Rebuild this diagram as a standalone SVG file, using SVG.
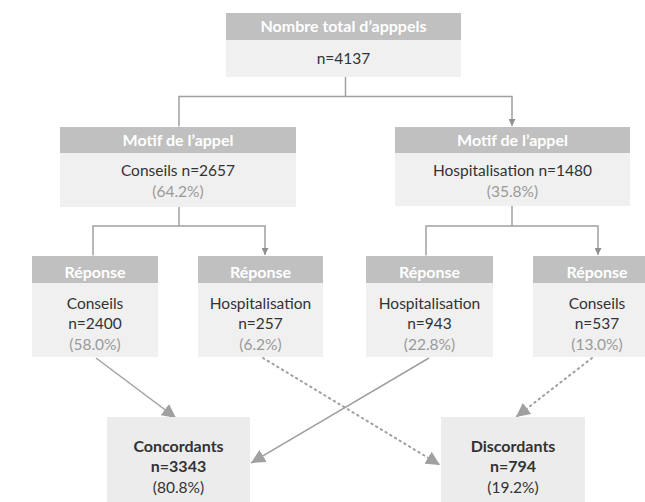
<svg xmlns="http://www.w3.org/2000/svg" width="645" height="502" viewBox="0 0 645 502">
<style>
.hd{fill:#c0c0c0}
.bd{fill:#f0f0f0}
.bb{fill:#ececec}
.ht{font-family:Lato,"Liberation Sans",sans-serif;font-size:16px;font-weight:bold;fill:#ffffff;text-anchor:middle}
.t{font-family:Lato,"Liberation Sans",sans-serif;font-size:15.5px;fill:#333333;text-anchor:middle}
.p{font-family:Lato,"Liberation Sans",sans-serif;font-size:15.5px;fill:#9a9a9a;text-anchor:middle}
.b{font-family:Lato,"Liberation Sans",sans-serif;font-size:16px;font-weight:bold;fill:#333333;text-anchor:middle}
.ln{fill:none;stroke:#a0a0a0;stroke-width:1.5}
.dl{fill:none;stroke:#a0a0a0;stroke-width:2;stroke-dasharray:1.5 4;stroke-linecap:round}
</style>
<defs>
<marker id="a" viewBox="0 0 10 10" refX="10" refY="5" markerWidth="7" markerHeight="7" markerUnits="userSpaceOnUse" orient="auto"><path d="M0,0 L10,5 L0,10 z" fill="#909090"/></marker>
<marker id="A" viewBox="0 0 10 10" refX="10" refY="5" markerWidth="14" markerHeight="14" markerUnits="userSpaceOnUse" orient="auto"><path d="M0,0 L10,5 L0,10 z" fill="#a0a0a0"/></marker>
</defs>
<rect width="645" height="502" fill="#ffffff"/>
<g id="connectors">
<path class="ln" d="M345.5,77 V96.5"/>
<path class="ln" d="M179,126 V96.5 H512 V126" marker-start="url(#a)" marker-end="url(#a)"/>
<path class="ln" d="M179,207 V226"/>
<path class="ln" d="M93,255 V226 H265 V255" marker-start="url(#a)" marker-end="url(#a)"/>
<path class="ln" d="M512,206 V226"/>
<path class="ln" d="M426,255 V226 H598 V255" marker-start="url(#a)" marker-end="url(#a)"/>
<path class="ln" d="M96,358 L176,418" marker-end="url(#A)"/>
<path class="ln" d="M429,358 L251,463" marker-end="url(#A)"/>
<path class="dl" d="M263,358 L440,465" marker-end="url(#A)"/>
<path class="dl" d="M592,358 L516,417" marker-end="url(#A)"/>
</g>
<g id="total">
<rect class="hd" x="226" y="13" width="235" height="27"/>
<rect class="bd" x="226" y="40" width="235" height="37"/>
<text class="ht" x="343.5" y="32">Nombre total d’apppels</text>
<text class="t" x="343.5" y="64">n=4137</text>
</g>
<g id="motif-conseils">
<rect class="hd" x="60" y="127" width="236" height="26"/>
<rect class="bd" x="60" y="153" width="236" height="54"/>
<text class="ht" x="178" y="145.5">Motif de l’appel</text>
<text class="t" x="178" y="175.5">Conseils n=2657</text>
<text class="p" x="178" y="196.5">(64.2%)</text>
</g>
<g id="motif-hosp">
<rect class="hd" x="395" y="127" width="235" height="26"/>
<rect class="bd" x="395" y="153" width="235" height="53"/>
<text class="ht" x="512.5" y="145.5">Motif de l’appel</text>
<text class="t" x="512.5" y="175.5">Hospitalisation n=1480</text>
<text class="p" x="512.5" y="196.5">(35.8%)</text>
</g>
<g id="rep1">
<rect class="hd" x="32" y="256" width="126" height="27"/>
<rect class="bd" x="32" y="283" width="126" height="74"/>
<text class="ht" x="95" y="277.5">Réponse</text>
<text class="t" x="95" y="308.5">Conseils</text>
<text class="t" x="95" y="328.5">n=2400</text>
<text class="p" x="95" y="349.5">(58.0%)</text>
</g>
<g id="rep2">
<rect class="hd" x="198" y="256" width="125" height="27"/>
<rect class="bd" x="198" y="283" width="125" height="74"/>
<text class="ht" x="260.5" y="277.5">Réponse</text>
<text class="t" x="260.5" y="308.5">Hospitalisation</text>
<text class="t" x="260.5" y="328.5">n=257</text>
<text class="p" x="260.5" y="349.5">(6.2%)</text>
</g>
<g id="rep3">
<rect class="hd" x="366" y="256" width="127" height="27"/>
<rect class="bd" x="366" y="283" width="127" height="74"/>
<text class="ht" x="429.5" y="277.5">Réponse</text>
<text class="t" x="429.5" y="308.5">Hospitalisation</text>
<text class="t" x="429.5" y="328.5">n=943</text>
<text class="p" x="429.5" y="349.5">(22.8%)</text>
</g>
<g id="rep4">
<rect class="hd" x="533" y="256" width="127" height="27"/>
<rect class="bd" x="533" y="283" width="127" height="74"/>
<text class="ht" x="597" y="277.5">Réponse</text>
<text class="t" x="597" y="308.5">Conseils</text>
<text class="t" x="597" y="328.5">n=537</text>
<text class="p" x="597" y="349.5">(13.0%)</text>
</g>
<g id="concordants">
<rect class="bb" x="107" y="417" width="143" height="85"/>
<text class="b" x="178.5" y="451.5">Concordants</text>
<text class="b" x="178.5" y="471.5">n=3343</text>
<text class="t" x="178.5" y="492.5">(80.8%)</text>
</g>
<g id="discordants">
<rect class="bb" x="441" y="417" width="144" height="85"/>
<text class="b" x="513" y="451.5">Discordants</text>
<text class="b" x="513" y="471.5">n=794</text>
<text class="t" x="513" y="492.5">(19.2%)</text>
</g>
</svg>
